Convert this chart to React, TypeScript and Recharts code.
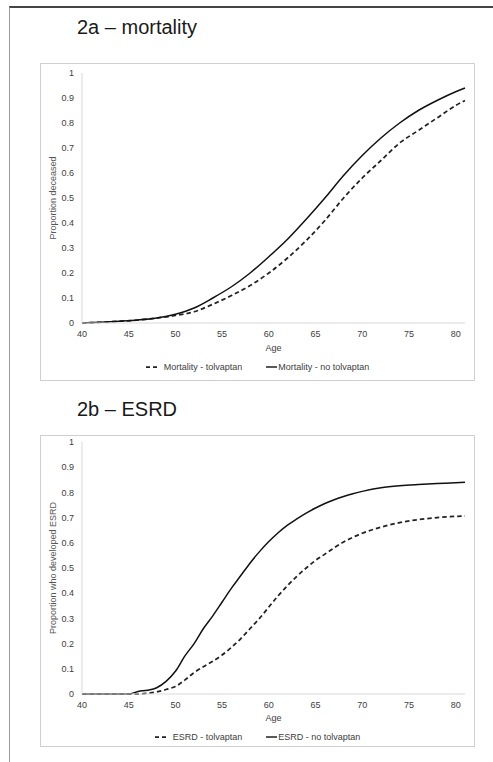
import React from 'react';
import { LineChart, Line, XAxis, YAxis, Legend } from 'recharts';

const FONT = '"Liberation Sans", Arial, Helvetica, sans-serif';

// 2a - mortality
const mortalityAges = [40, 42, 44, 46, 48, 50, 52, 54, 56, 58, 60, 62, 64, 66, 68, 70, 72, 74, 76, 78, 80, 81];
const mortalityTolvaptan = [0, 0.003, 0.007, 0.012, 0.02, 0.03, 0.045, 0.075, 0.11, 0.15, 0.2, 0.26, 0.33, 0.41, 0.5, 0.58, 0.65, 0.72, 0.77, 0.82, 0.87, 0.89];
const mortalityNoTolvaptan = [0, 0.003, 0.007, 0.012, 0.02, 0.035, 0.06, 0.1, 0.145, 0.2, 0.265, 0.335, 0.415, 0.5, 0.59, 0.67, 0.74, 0.8, 0.85, 0.89, 0.925, 0.94];

// 2b - ESRD
const esrdAges = [40, 45, 46, 47, 48, 49, 50, 51, 52, 53, 54, 55, 56, 57, 58, 59, 60, 61, 62, 63, 64, 65, 66, 67, 68, 69, 70, 72, 74, 76, 78, 80, 81];
const esrdTolvaptan = [0, 0, 0, 0.003, 0.008, 0.018, 0.03, 0.055, 0.085, 0.108, 0.13, 0.155, 0.185, 0.22, 0.26, 0.3, 0.345, 0.39, 0.43, 0.467, 0.5, 0.53, 0.555, 0.58, 0.603, 0.622, 0.638, 0.662, 0.68, 0.692, 0.7, 0.705, 0.707];
const esrdNoTolvaptan = [0, 0, 0.01, 0.015, 0.025, 0.05, 0.09, 0.15, 0.2, 0.26, 0.31, 0.365, 0.42, 0.47, 0.52, 0.565, 0.605, 0.64, 0.67, 0.695, 0.718, 0.738, 0.756, 0.771, 0.784, 0.795, 0.804, 0.818, 0.826, 0.831, 0.835, 0.838, 0.84];

const xTicks = [40, 45, 50, 55, 60, 65, 70, 75, 80];
const yTicks = [0, 0.1, 0.2, 0.3, 0.4, 0.5, 0.6, 0.7, 0.8, 0.9, 1];

const mortalityData = mortalityAges.map((age, i) => ({
  age,
  tolvaptan: mortalityTolvaptan[i],
  noTolvaptan: mortalityNoTolvaptan[i],
}));

const esrdData = esrdAges.map((age, i) => ({
  age,
  tolvaptan: esrdTolvaptan[i],
  noTolvaptan: esrdNoTolvaptan[i],
}));

const tickStyle = { fontSize: 9, fill: '#404040', fontFamily: FONT };

function LegendContent({ dashedName, solidName }: { dashedName: string; solidName: string }) {
  return (
    <div
      style={{
        height: 16,
        display: 'flex',
        justifyContent: 'center',
        alignItems: 'center',
        fontFamily: FONT,
        fontSize: 9,
        color: '#404040',
        whiteSpace: 'nowrap',
      }}
    >
      <svg width={12} height={6} style={{ marginRight: 6 }}>
        <line x1={0} y1={3} x2={12} y2={3} stroke="#222" strokeWidth={1.75} strokeDasharray="4 3" />
      </svg>
      <span>{dashedName}</span>
      <svg width={11} height={6} style={{ marginLeft: 24, marginRight: 1 }}>
        <line x1={0} y1={3} x2={11} y2={3} stroke="#222" strokeWidth={1.5} />
      </svg>
      <span>{solidName}</span>
    </div>
  );
}

interface PanelProps {
  top: number;
  height: number;
  plotTop: number;
  axisHeight: number;
  legendBottom: number;
  data: { age: number; tolvaptan: number; noTolvaptan: number }[];
  yLabel: string;
  dashedName: string;
  solidName: string;
}

function Panel({ top, height, plotTop, axisHeight, legendBottom, data, yLabel, dashedName, solidName }: PanelProps) {
  return (
    <div
      style={{
        position: 'absolute',
        left: 40,
        top,
        width: 435,
        height,
        border: '1px solid #cfcfcf',
        boxSizing: 'border-box',
      }}
    >
      <div style={{ position: 'absolute', left: -1, top: -1 }}>
        <LineChart
          width={435}
          height={height}
          data={data}
          margin={{ top: plotTop, right: 10, bottom: legendBottom, left: 0 }}
        >
          <XAxis
            dataKey="age"
            type="number"
            domain={[40, 81]}
            ticks={xTicks}
            height={axisHeight}
            axisLine={{ stroke: '#d9d9d9' }}
            tickLine={false}
            tick={tickStyle}
            label={{ value: 'Age', position: 'insideBottom', offset: 8, style: tickStyle }}
          />
          <YAxis
            type="number"
            domain={[0, 1]}
            ticks={yTicks}
            width={42}
            axisLine={{ stroke: '#d9d9d9' }}
            tickLine={false}
            tick={tickStyle}
            label={{
              value: yLabel,
              angle: -90,
              position: 'insideLeft',
              offset: 13,
              style: { textAnchor: 'middle', fontSize: 9, fill: '#555', fontFamily: FONT },
            }}
          />
          <Legend
            verticalAlign="bottom"
            wrapperStyle={{ left: 0, width: 435, bottom: legendBottom }}
            content={() => <LegendContent dashedName={dashedName} solidName={solidName} />}
          />
          <Line
            type="monotone"
            dataKey="tolvaptan"
            stroke="#222"
            strokeWidth={1.75}
            strokeDasharray="4.5 3"
            dot={false}
            isAnimationActive={false}
          />
          <Line
            type="monotone"
            dataKey="noTolvaptan"
            stroke="#111"
            strokeWidth={1.5}
            dot={false}
            isAnimationActive={false}
          />
        </LineChart>
      </div>
    </div>
  );
}

export default function App() {
  return (
    <div style={{ position: 'absolute', left: 0, top: 0, width: 493, height: 762, background: '#fff', fontFamily: FONT }}>
      <div
        style={{
          position: 'absolute',
          left: 9,
          top: 6,
          width: 484,
          height: 756,
          borderTop: '2px solid #444',
          borderLeft: '1px solid #999',
          boxSizing: 'border-box',
        }}
      />
      <div style={{ position: 'absolute', left: 77, top: 16.6, fontSize: 20, lineHeight: '20px', color: '#1a1a1a', whiteSpace: 'nowrap' }}>
        2a – mortality
      </div>
      <Panel
        top={63}
        height={318}
        plotTop={10}
        axisHeight={36}
        legendBottom={6}
        data={mortalityData}
        yLabel="Proportion deceased"
        dashedName="Mortality - tolvaptan"
        solidName="Mortality - no tolvaptan"
      />
      <div style={{ position: 'absolute', left: 77, top: 399, fontSize: 20, lineHeight: '20px', color: '#1a1a1a', whiteSpace: 'nowrap' }}>
        2b – ESRD
      </div>
      <Panel
        top={435}
        height={312}
        plotTop={7}
        axisHeight={35}
        legendBottom={2}
        data={esrdData}
        yLabel="Proportion who developed ESRD"
        dashedName="ESRD - tolvaptan"
        solidName="ESRD - no tolvaptan"
      />
    </div>
  );
}
